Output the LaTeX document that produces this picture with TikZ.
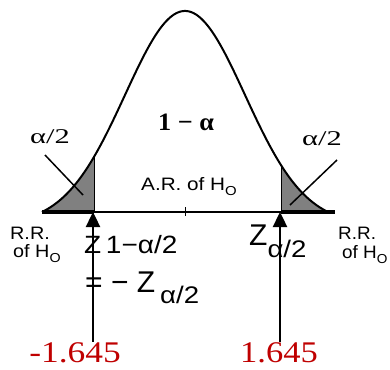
\documentclass[tikz,border=0pt]{standalone}
\usepackage{graphicx}
\usepackage{fontspec}
\setmainfont{Liberation Serif}
\setsansfont{Liberation Sans}
\usetikzlibrary{positioning,arrows.meta}

\newcommand{\HO}{H\raisebox{-0.3em}{\fontsize{13}{13}\selectfont O}}
\newcommand{\hstr}[2]{\scalebox{#1}[1]{#2}}

\begin{document}
\begin{tikzpicture}[x=1pt,y=-1pt,
  declare function={nrm(\t)=212-201*(exp(-((\t-185)/60)^2/2)-0.0584)/0.9416;},
  crv/.style={line width=2pt},
  tl/.style={fill=black!50},
  ar/.style={-{Triangle[length=15pt,width=14pt]}, line width=2.4pt},
  gl/.style={font=\fontsize{21}{23}\selectfont, inner sep=0pt},
  sl/.style={font=\sffamily\fontsize{18}{20}\selectfont, inner sep=0pt, anchor=base west},
  zl/.style={font=\sffamily\fontsize{30}{32}\selectfont, inner sep=0pt},
  nm/.style={font=\fontsize{30}{32}\selectfont, text=red!75!black, inner sep=0pt},
]
\useasboundingbox (0,0) rectangle (390,369);

% tails
\fill[tl] plot[domain=42:94, samples=40] (\x, {nrm(\x)}) -- (94,212) -- cycle;
\fill[tl] (281,212) -- plot[domain=281:328, samples=40] (\x, {nrm(\x)}) -- cycle;
\draw[line width=1pt] (94,212) -- (94,{nrm(94)});
\draw[line width=1pt] (281,212) -- (281,{nrm(281)});

% curve and axis
\draw[crv] plot[domain=42:328, samples=150] (\x, {nrm(\x)});
\draw[line width=1.4pt] (42,212) -- (335,212);
\draw[line width=4pt] (42,212) -- (94,212);
\draw[line width=4pt] (281,212) -- (335,212);
\draw[line width=1pt] (185,207) -- (185,216);
\coordinate (zl) at (93,212);
\coordinate (zr) at (280,212);

% labels
\node[gl, anchor=base] (al) at (50,143) {\hstr{1.45}{α/2}};
\node[gl, anchor=base] (ar) at (322,145) {\hstr{1.45}{α/2}};
\draw[line width=1.5pt] (45,155) -- (83,195);
\draw[line width=1.5pt] (337,160) -- (290,205);
\node[gl, anchor=base, font=\bfseries\fontsize{25}{27}\selectfont] (ca) at (186,130) {\hstr{1.05}{1 − α}};
\node[sl, anchor=base] (acc) at (189,190) {\hstr{1.15}{A.R. of \HO}};
\node[sl] (rrl) at (10,239) {\hstr{1.1}{R.R.}};
\node[sl] (rrl2) at (13,257) {\hstr{1.1}{of \HO}};
\node[sl] (rrr) at (338,239) {\hstr{1.05}{R.R.}};
\node[sl] (rrr2) at (342,258) {\hstr{1.05}{of \HO}};

\node[zl, anchor=base west] (zlo) at (84,253) {\hstr{1.12}{\fontsize{25}{26}\selectfont Z\,1−α/2}};
\node[zl, anchor=base west] (eq) at (85,292) {= − Z\,\raisebox{-11pt}{\hstr{1.15}{\fontsize{24}{26}\selectfont α/2}}};
\node[zl, anchor=base west] (zhi) at (249,245) {Z\raisebox{-12pt}{\hstr{1.15}{\fontsize{24}{26}\selectfont α/2}}};

% critical values
\node[nm, anchor=base] (lo) at (75,362) {\hstr{1.18}{-1.645}};
\node[nm, anchor=base] (hi) at (279,362) {\hstr{1.15}{1.645}};
\draw[ar] (lo.north -| zl) -- (zl);
\draw[ar] (hi.north -| zr) -- (zr);
\end{tikzpicture}
\end{document}
